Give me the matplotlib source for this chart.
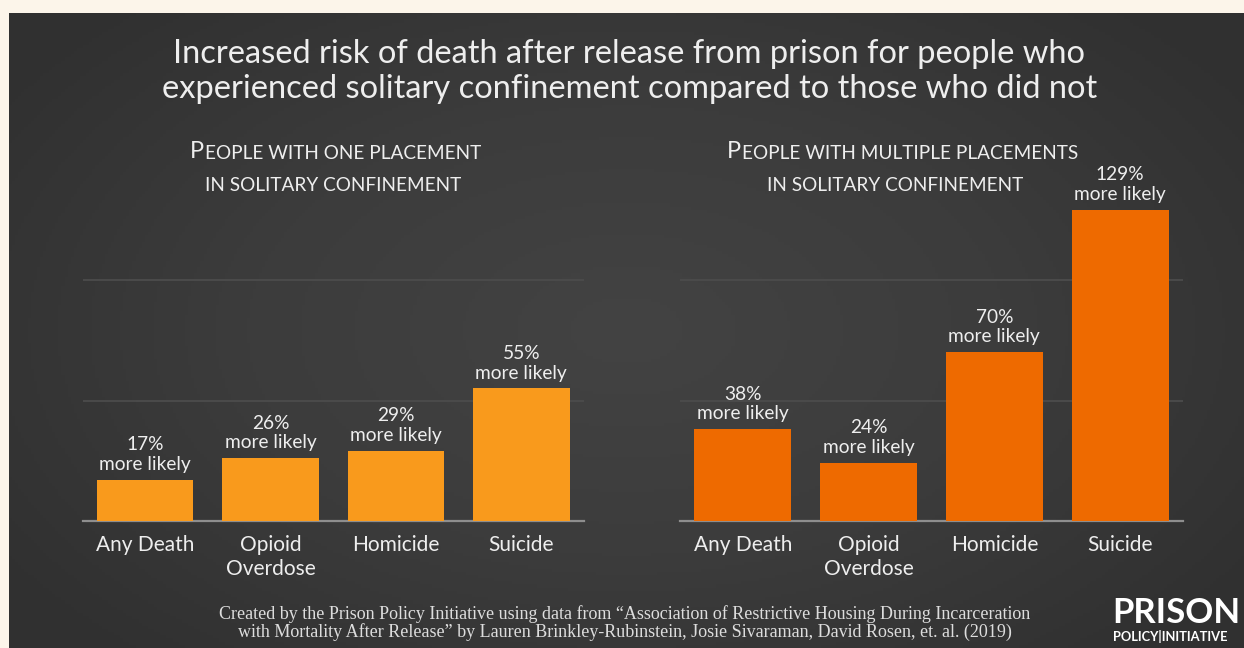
import numpy as np
import matplotlib
matplotlib.use("Agg")
import matplotlib.pyplot as plt
from matplotlib.colors import LinearSegmentedColormap

# data
categories = ["Any Death", "Opioid\nOverdose", "Homicide", "Suicide"]
one_placement = [17, 26, 29, 55]
multiple_placements = [38, 24, 70, 129]

TITLE = ("Increased risk of death after release from prison for people who\n"
         "experienced solitary confinement compared to those who did not")
SOURCE = ("Created by the Prison Policy Initiative using data from \u201cAssociation of Restrictive Housing During Incarceration\n"
          "with Mortality After Release\u201d by Lauren Brinkley-Rubinstein, Josie Sivaraman, David Rosen, et. al. (2019)")

CREAM = "#fcf5ea"
TEXT = "#eeeeee"
ORANGE_LIGHT = "#f99a1c"
ORANGE_DARK = "#ee6a00"
W, H = 1244, 648

plt.rcParams["font.family"] = ["Lato", "DejaVu Sans"]

fig = plt.figure(figsize=(W / 100, H / 100), dpi=100)
fig.patch.set_facecolor(CREAM)


def fx(px):
    return px / W


def fy(py):
    return 1 - py / H


# dark slide background with a soft vignette
bg = fig.add_axes([fx(9), 0, 1 - fx(9), fy(13)])
yy, xx = np.mgrid[-1:1:200j, -1:1:400j]
r = np.sqrt(xx ** 2 * 0.8 + yy ** 2 * 0.6)
cmap = LinearSegmentedColormap.from_list("vig", ["#434343", "#3c3c3c", "#303030"])
bg.imshow(r, cmap=cmap, aspect="auto", extent=(0, 1, 0, 1), vmin=0, vmax=1.1)
bg.set_axis_off()

# multi-line baseline alignment refers to the last line
fig.text(0.506, fy(98), TITLE, ha="center", va="baseline", fontsize=23.5,
         color=TEXT, linespacing=1.2)


def small_caps(x, y, text, big=17, small=13.7):
    """Draw text with a large first letter followed by small capitals."""
    first = fig.text(fx(x), fy(y), text[0].upper(), fontsize=big, color=TEXT,
                     ha="left", va="baseline")
    plt.annotate(text[1:].upper(), xy=(1, 0), xycoords=first,
                 xytext=(0.5, 0), textcoords="offset points",
                 ha="left", va="bottom", fontsize=small, color=TEXT,
                 annotation_clip=False)


def caps_line(x, y, text, size=13.7):
    fig.text(fx(x), fy(y), text.upper(), fontsize=size, color=TEXT,
             ha="left", va="baseline")


def draw_panel(rect, values, color):
    ax = fig.add_axes(rect)
    ax.set_facecolor("none")
    xs = np.arange(len(categories))
    bars = ax.bar(xs, values, width=0.77, color=color, zorder=3)
    ax.set_xlim(-0.5, len(categories) - 0.5)
    ax.set_ylim(0, 140)
    ax.set_yticks([50, 100])
    ax.yaxis.grid(True, color="#4c4c4c", linewidth=1.3, zorder=0)
    ax.tick_params(axis="y", length=0, labelleft=False)
    ax.set_xticks(xs)
    ax.set_xticklabels(categories, fontsize=15, color=TEXT, linespacing=1.25)
    ax.tick_params(axis="x", length=0, pad=10)
    for side in ("top", "left", "right"):
        ax.spines[side].set_visible(False)
    ax.spines["bottom"].set_color("#8e8e8e")
    ax.spines["bottom"].set_linewidth(1.6)
    for b, v in zip(bars, values):
        ax.annotate(f"{v}%\nmore likely", (b.get_x() + b.get_width() / 2, v),
                    xytext=(0, 5), textcoords="offset points",
                    ha="center", va="bottom", fontsize=13.8, color=TEXT,
                    linespacing=1.2)
    return ax


bottom = fy(521)
height = 140 * 2.41 / H
draw_panel([fx(82.5), bottom, fx(501.5), height], one_placement, ORANGE_LIGHT)
draw_panel([fx(680), bottom, fx(503), height], multiple_placements, ORANGE_DARK)

small_caps(190, 158, "People with one placement")
caps_line(205, 191, "in solitary confinement")
small_caps(727, 158, "People with multiple placements")
caps_line(767, 191, "in solitary confinement")

fig.text(0.502, fy(637), SOURCE, ha="center", va="baseline", fontsize=13,
         color="#dddddd", family=["Liberation Serif", "DejaVu Serif"],
         linespacing=1.0)

# logo
fig.text(fx(1112), fy(623), "PRISON", fontsize=25, fontweight="bold",
         color="white", ha="left", va="baseline")
fig.text(fx(1113), fy(641), "POLICY|INITIATIVE", fontsize=9.3,
         fontweight="bold", color="white", ha="left", va="baseline")

fig.savefig("out.png", dpi=100, facecolor=CREAM)
